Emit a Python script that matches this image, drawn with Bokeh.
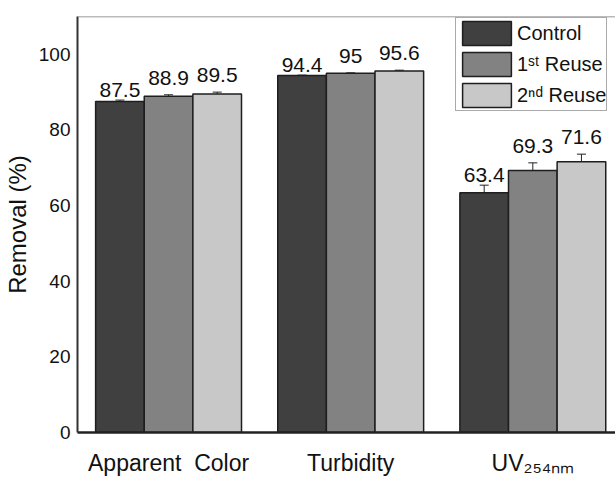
from bokeh.plotting import figure
from bokeh.models import ColumnDataSource, Whisker, Legend, LegendItem, FixedTicker, Span
from bokeh.core.properties import value
from bokeh.embed import file_html
from bokeh.resources import INLINE

# ---- data ----
categories = ["Apparent\u00a0\u00a0Color", "Turbidity", "UV\u2082\u2085\u2084\u2099\u2098"]
series_names = ["Control", "1\u02e2\u1d57 Reuse", "2\u207f\u1d48 Reuse"]
control = [87.5, 94.4, 63.4]
reuse_1 = [88.9, 95.0, 69.3]
reuse_2 = [89.5, 95.6, 71.6]
err_control = [0.4, 0.1, 2.0]
err_reuse_1 = [0.4, 0.1, 2.0]
err_reuse_2 = [0.5, 0.2, 2.0]
y_ticks = [0, 20, 40, 60, 80, 100]

# ---- style ----
FONT = "Liberation Sans"
colors = ["#404040", "#828282", "#c8c8c8"]
label_gaps = [3, 10, 10]
bar_w = 0.267
offsets = [-bar_w, 0.0, bar_w]
Y_MAX = 110
X_END = 2.954

p = figure(width=615, height=478, output_backend="svg", toolbar_location=None,
           x_range=(0, X_END), y_range=(0, Y_MAX),
           min_border_left=73, min_border_top=16, min_border_bottom=43, min_border_right=0)
p.outline_line_color = None
p.grid.grid_line_color = None
p.background_fill_color = "white"
p.border_fill_color = "white"

values_all = [control, reuse_1, reuse_2]
errs_all = [err_control, err_reuse_1, err_reuse_2]
renderers = []
for s, (vals, errs) in enumerate(zip(values_all, errs_all)):
    xs = [i + 0.5 + offsets[s] for i in range(len(categories))]
    src = ColumnDataSource(dict(
        x=xs, top=vals,
        upper=[v + e for v, e in zip(vals, errs)],
        lower=[v - e for v, e in zip(vals, errs)],
        label=[f"{v:g}" for v in vals],
    ))
    r = p.vbar(x="x", top="top", bottom=0, width=bar_w, source=src,
               fill_color=colors[s], line_color="#1e1e1e", line_width=1.5)
    renderers.append(r)
    w = Whisker(base="x", upper="upper", lower="lower", source=src,
                line_color="#222222", line_width=1)
    w.upper_head.size = 9
    w.lower_head.size = 9
    w.upper_head.line_color = "#222222"
    w.lower_head.line_color = "#222222"
    p.add_layout(w)
    p.text(x="x", y="upper", text="label", source=src, text_align="center",
           text_baseline="bottom", y_offset=-label_gaps[s],
           text_font=value(FONT), text_font_size="21px", text_color="#111111")

# top frame line
p.add_layout(Span(location=Y_MAX, dimension="width", line_color="#777777", line_width=1.5))

# axes
p.yaxis.ticker = FixedTicker(ticks=y_ticks)
p.yaxis.axis_label = "Removal (%)"
p.yaxis.axis_label_text_font = FONT
p.yaxis.axis_label_text_font_style = "normal"
p.yaxis.axis_label_text_font_size = "24px"
p.yaxis.axis_label_text_color = "#111111"
p.yaxis.axis_label_standoff = 5
p.yaxis.major_label_text_font = FONT
p.yaxis.major_label_text_font_size = "19px"
p.yaxis.major_label_text_color = "#111111"
p.yaxis.major_label_standoff = 1
p.yaxis.major_tick_line_color = None
p.yaxis.minor_tick_line_color = None
p.yaxis.axis_line_color = "#333333"
p.yaxis.axis_line_width = 2

p.xaxis.ticker = FixedTicker(ticks=[i + 0.5 for i in range(len(categories))])
p.xaxis.major_label_overrides = {i + 0.5: c for i, c in enumerate(categories)}
p.xaxis.major_label_text_font = FONT
p.xaxis.major_label_text_font_size = "23px"
p.xaxis.major_label_text_color = "#111111"
p.xaxis.major_label_standoff = 11
p.xaxis.major_tick_line_color = None
p.xaxis.minor_tick_line_color = None
p.xaxis.axis_line_color = "#222222"
p.xaxis.axis_line_width = 2.5

legend = Legend(items=[LegendItem(label=n, renderers=[r]) for n, r in zip(series_names, renderers)],
                location=(378, 321), padding=0, spacing=1, margin=0,
                glyph_width=61, glyph_height=30, label_standoff=0,
                label_text_font=FONT, label_text_font_size="20px", label_text_color="#111111",
                border_line_color="#555555", border_line_width=1.5,
                background_fill_color="white", background_fill_alpha=1.0)
p.add_layout(legend)

open("out.html", "w").write(file_html(p, INLINE))
